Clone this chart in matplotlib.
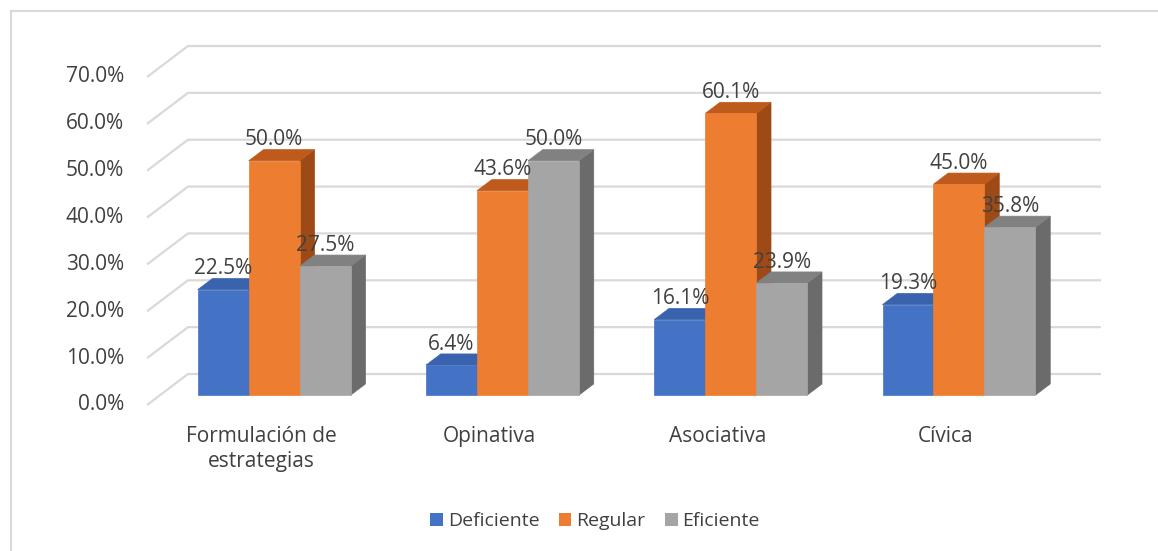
import numpy as np
import matplotlib.pyplot as plt
from matplotlib.patches import Polygon, Patch
from matplotlib.lines import Line2D

plt.rcParams['font.family'] = ['Open Sans', 'DejaVu Sans']

categories = ["Formulación de\nestrategias", "Opinativa", "Asociativa", "Cívica"]
series = ["Deficiente", "Regular", "Eficiente"]
deficiente = [22.5, 6.4, 16.1, 19.3]
regular = [50.0, 43.6, 60.1, 45.0]
eficiente = [27.5, 50.0, 23.9, 35.8]
yticks = [0, 10, 20, 30, 40, 50, 60, 70]

# front / top / side colours for each series
cols = [("#4472C4", "#3A63AD", "#2F528F"),
        ("#ED7D31", "#BE5B1C", "#9D4A16"),
        ("#A5A5A5", "#818181", "#6B6B6B")]
txt = "#404040"
grid = "#D9D9D9"

W, H = 1158, 551
fig = plt.figure(figsize=(W / 100, H / 100), dpi=100)
# front plane of the floor: x 147..1060 px, y 405 (0%) .. 77 (70%)
ax = fig.add_axes([147 / W, (H - 405) / H, (1060 - 147) / W, (405 - 77) / H])
ax.set_xlim(0, 4)
ax.set_ylim(0, 70)
ax.axis('off')

# oblique depth vector (full depth) in data units
DX = 41 / 228.25
DY = 31 / 328 * 70
f0, f1 = 0.32, 0.68
bw = 0.2234

# gridlines: side wall diagonal + back wall line
for t in yticks:
    ax.plot([0, DX, 4 + DX], [t, t + DY, t + DY], color=grid, lw=1.6,
            zorder=1, clip_on=False, solid_capstyle='butt')
    ax.text(-0.1, t, "%.1f%%" % t, ha='right', va='center', fontsize=15,
            color=txt)

data = [deficiente, regular, eficiente]
ox, oy = f0 * DX, f0 * DY
dx, dy = (f1 - f0) * DX, (f1 - f0) * DY
z = 2
for i in range(len(categories)):
    for j in range(3):
        v = data[j][i]
        x0 = i + 0.5 - 1.5 * bw + j * bw + ox
        x1 = x0 + bw
        y0 = oy
        y1 = v + oy
        front, top, side = cols[j]
        ax.add_patch(Polygon([(x1, y0), (x1 + dx, y0 + dy), (x1 + dx, y1 + dy), (x1, y1)],
                             closed=True, fc=side, ec=side, lw=0.5, zorder=z, clip_on=False))
        ax.add_patch(Polygon([(x0, y1), (x1, y1), (x1 + dx, y1 + dy), (x0 + dx, y1 + dy)],
                             closed=True, fc=top, ec=top, lw=0.5, zorder=z, clip_on=False))
        ax.add_patch(Polygon([(x0, y0), (x1, y0), (x1, y1), (x0, y1)],
                             closed=True, fc=front, ec=front, lw=0.5, zorder=z + 0.5, clip_on=False))
        z += 1
for i in range(len(categories)):
    for j in range(3):
        v = data[j][i]
        xc = i + 0.5 - 1.5 * bw + (j + 0.5) * bw + ox
        ax.text(xc, v + oy + 3.3, "%.1f%%" % v, ha='center', va='baseline',
                fontsize=15, color=txt, zorder=100)
    ax.text(i + 0.5, -4.5, categories[i], ha='center', va='top', fontsize=15,
            color=txt, linespacing=1.25)

handles = [Patch(fc=cols[j][0], ec='none') for j in range(3)]
fig.legend(handles, series, loc='center', bbox_to_anchor=(595 / W, 1 - 521 / H),
           ncol=3, frameon=False, fontsize=14, handlelength=0.65, handleheight=0.65,
           handletextpad=0.25, columnspacing=1.0, labelcolor=txt)

# chart area border
fig.add_artist(Line2D([10.5 / W, 10.5 / W], [0, 1 - 10.5 / H], color=grid, lw=1.5))
fig.add_artist(Line2D([10.5 / W, 1], [1 - 10.5 / H, 1 - 10.5 / H], color=grid, lw=1.5))

fig.savefig("out.png", dpi=100)
